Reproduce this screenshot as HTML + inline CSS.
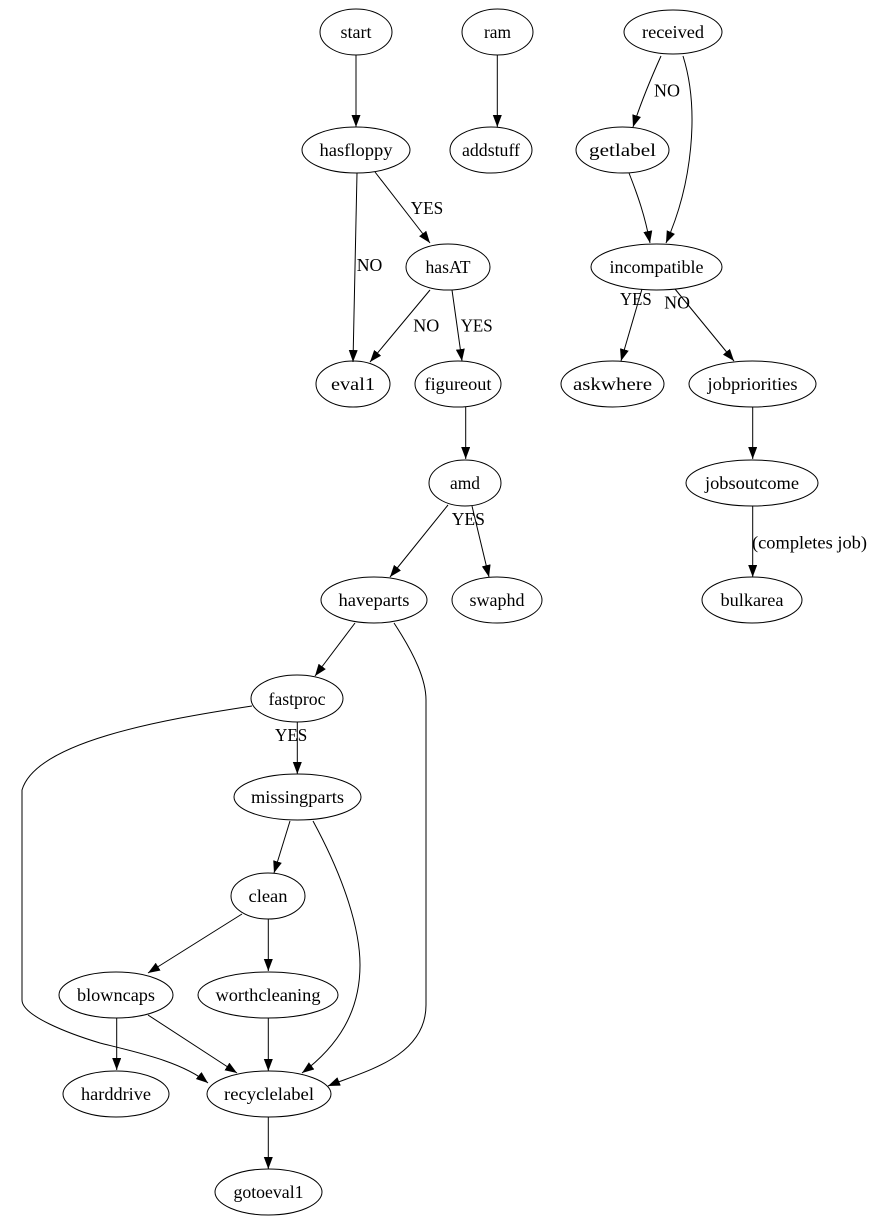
<!DOCTYPE html>
<html><head><meta charset="utf-8"><style>
html,body{margin:0;padding:0;background:#fff;}
svg{display:block;}
text{font-family:"Liberation Serif",serif;font-size:18px;fill:#000;}
</style></head><body>
<svg width="875" height="1223" viewBox="0 0 875 1223" xmlns="http://www.w3.org/2000/svg">
<defs>
<marker id="a" markerWidth="12" markerHeight="10" refX="12" refY="4.5" orient="auto" markerUnits="userSpaceOnUse">
<path d="M0,0 L12,4.5 L0,9 z" fill="#000"/>
</marker>
</defs>
<rect width="875" height="1223" fill="#fff"/>
<g fill="none" stroke="#000" stroke-width="1">
<ellipse cx="356" cy="32" rx="36" ry="23"/>
<ellipse cx="497.5" cy="32" rx="35.5" ry="23"/>
<ellipse cx="673" cy="32" rx="49" ry="22"/>
<ellipse cx="356" cy="150" rx="54" ry="23"/>
<ellipse cx="491" cy="150" rx="41" ry="23"/>
<ellipse cx="622.5" cy="150" rx="46.5" ry="23"/>
<ellipse cx="448" cy="267" rx="42" ry="23"/>
<ellipse cx="656.5" cy="267" rx="65.5" ry="23"/>
<ellipse cx="353" cy="384" rx="37" ry="23"/>
<ellipse cx="458" cy="384" rx="43" ry="23"/>
<ellipse cx="612.5" cy="384" rx="51.5" ry="23"/>
<ellipse cx="752.5" cy="384" rx="63.5" ry="23"/>
<ellipse cx="465" cy="483" rx="36" ry="23"/>
<ellipse cx="752" cy="483" rx="66" ry="23"/>
<ellipse cx="374" cy="600" rx="53" ry="23"/>
<ellipse cx="497" cy="600" rx="45" ry="23"/>
<ellipse cx="752" cy="600" rx="50" ry="23"/>
<ellipse cx="297" cy="698.5" rx="46" ry="23.5"/>
<ellipse cx="297.5" cy="797" rx="63.5" ry="23"/>
<ellipse cx="268" cy="896" rx="37" ry="23"/>
<ellipse cx="116" cy="995" rx="57" ry="23"/>
<ellipse cx="268" cy="995" rx="70" ry="23"/>
<ellipse cx="116" cy="1094" rx="53" ry="23"/>
<ellipse cx="269" cy="1094" rx="62" ry="23"/>
<ellipse cx="268.5" cy="1192" rx="53.5" ry="23"/>
</g>
<g fill="none" stroke="#000" stroke-width="1" marker-end="url(#a)">
<path d="M356,55 L356,127"/>
<path d="M497.3,55 L497.3,127"/>
<path d="M357,173 L353,362"/>
<path d="M375,172 L430,243"/>
<path d="M430,290 L370,362"/>
<path d="M452,290 L462,361"/>
<path d="M661,56 C652,76 641,102 633,127"/>
<path d="M683,56 C700,110 692,185 666,243"/>
<path d="M629,173 C638,196 645,216 650,243"/>
<path d="M642,289 L621,361"/>
<path d="M675,289 L734,361"/>
<path d="M752.7,407 L752.7,459"/>
<path d="M752.7,506 L752.7,577"/>
<path d="M465.7,407 L465.7,459"/>
<path d="M448,505 L390,577"/>
<path d="M472,506 L489,577"/>
<path d="M355,623 L315,676"/>
<path d="M394,623 C415,655 426,680 426,700 L426,1005 C426,1058 362,1072 328,1086"/>
<path d="M252,706 C160,720 36,742 22,790 L22,1000 C22,1016 70,1034 100,1043 C140,1053 182,1062 208,1083"/>
<path d="M297.3,722 L297.3,774"/>
<path d="M290,821 L274,873"/>
<path d="M313,821 C345,880 360,930 360,965 C360,1012 338,1046 302,1073"/>
<path d="M242,914 L148,973"/>
<path d="M268.3,919 L268.3,971"/>
<path d="M116.7,1018 L116.7,1070"/>
<path d="M148,1015 L237,1073"/>
<path d="M268.3,1018 L268.3,1071"/>
<path d="M268.3,1117 L268.3,1169"/>
</g>
<g text-anchor="middle">
<text x="356" y="38" textLength="31" lengthAdjust="spacingAndGlyphs">start</text>
<text x="497.5" y="38" textLength="27" lengthAdjust="spacingAndGlyphs">ram</text>
<text x="673" y="38" textLength="62" lengthAdjust="spacingAndGlyphs">received</text>
<text x="356" y="156" textLength="73" lengthAdjust="spacingAndGlyphs">hasfloppy</text>
<text x="491" y="156" textLength="58" lengthAdjust="spacingAndGlyphs">addstuff</text>
<text x="622.5" y="156" textLength="67" lengthAdjust="spacingAndGlyphs">getlabel</text>
<text x="448" y="273" textLength="45" lengthAdjust="spacingAndGlyphs">hasAT</text>
<text x="656.5" y="273" textLength="94" lengthAdjust="spacingAndGlyphs">incompatible</text>
<text x="353" y="390" textLength="44" lengthAdjust="spacingAndGlyphs">eval1</text>
<text x="458" y="390" textLength="67" lengthAdjust="spacingAndGlyphs">figureout</text>
<text x="612.5" y="390" textLength="79" lengthAdjust="spacingAndGlyphs">askwhere</text>
<text x="752.5" y="390" textLength="90" lengthAdjust="spacingAndGlyphs">jobpriorities</text>
<text x="465" y="489" textLength="30" lengthAdjust="spacingAndGlyphs">amd</text>
<text x="752" y="489" textLength="94" lengthAdjust="spacingAndGlyphs">jobsoutcome</text>
<text x="374" y="606" textLength="71" lengthAdjust="spacingAndGlyphs">haveparts</text>
<text x="497" y="606" textLength="55" lengthAdjust="spacingAndGlyphs">swaphd</text>
<text x="752" y="606" textLength="63" lengthAdjust="spacingAndGlyphs">bulkarea</text>
<text x="297" y="705" textLength="57" lengthAdjust="spacingAndGlyphs">fastproc</text>
<text x="297.5" y="803" textLength="93" lengthAdjust="spacingAndGlyphs">missingparts</text>
<text x="268" y="902" textLength="39" lengthAdjust="spacingAndGlyphs">clean</text>
<text x="116" y="1001" textLength="78" lengthAdjust="spacingAndGlyphs">blowncaps</text>
<text x="268" y="1001" textLength="105" lengthAdjust="spacingAndGlyphs">worthcleaning</text>
<text x="116" y="1100" textLength="70" lengthAdjust="spacingAndGlyphs">harddrive</text>
<text x="269" y="1100" textLength="90" lengthAdjust="spacingAndGlyphs">recyclelabel</text>
<text x="268.5" y="1198" textLength="70" lengthAdjust="spacingAndGlyphs">gotoeval1</text>
</g>
<g>
<text x="410.7" y="214" textLength="32.6" lengthAdjust="spacingAndGlyphs">YES</text>
<text x="356.7" y="271" textLength="25.6" lengthAdjust="spacingAndGlyphs">NO</text>
<text x="413.3" y="331.7" textLength="26" lengthAdjust="spacingAndGlyphs">NO</text>
<text x="460.7" y="331.7" textLength="32" lengthAdjust="spacingAndGlyphs">YES</text>
<text x="654" y="96.7" textLength="26" lengthAdjust="spacingAndGlyphs">NO</text>
<text x="620" y="305" textLength="31.7" lengthAdjust="spacingAndGlyphs">YES</text>
<text x="664.3" y="308.3" textLength="25.7" lengthAdjust="spacingAndGlyphs">NO</text>
<text x="451.7" y="525" textLength="33.3" lengthAdjust="spacingAndGlyphs">YES</text>
<text x="275" y="741" textLength="32.3" lengthAdjust="spacingAndGlyphs">YES</text>
<text x="752" y="548.3" textLength="115" lengthAdjust="spacingAndGlyphs">(completes job)</text>
</g>
</svg>
</body></html>
